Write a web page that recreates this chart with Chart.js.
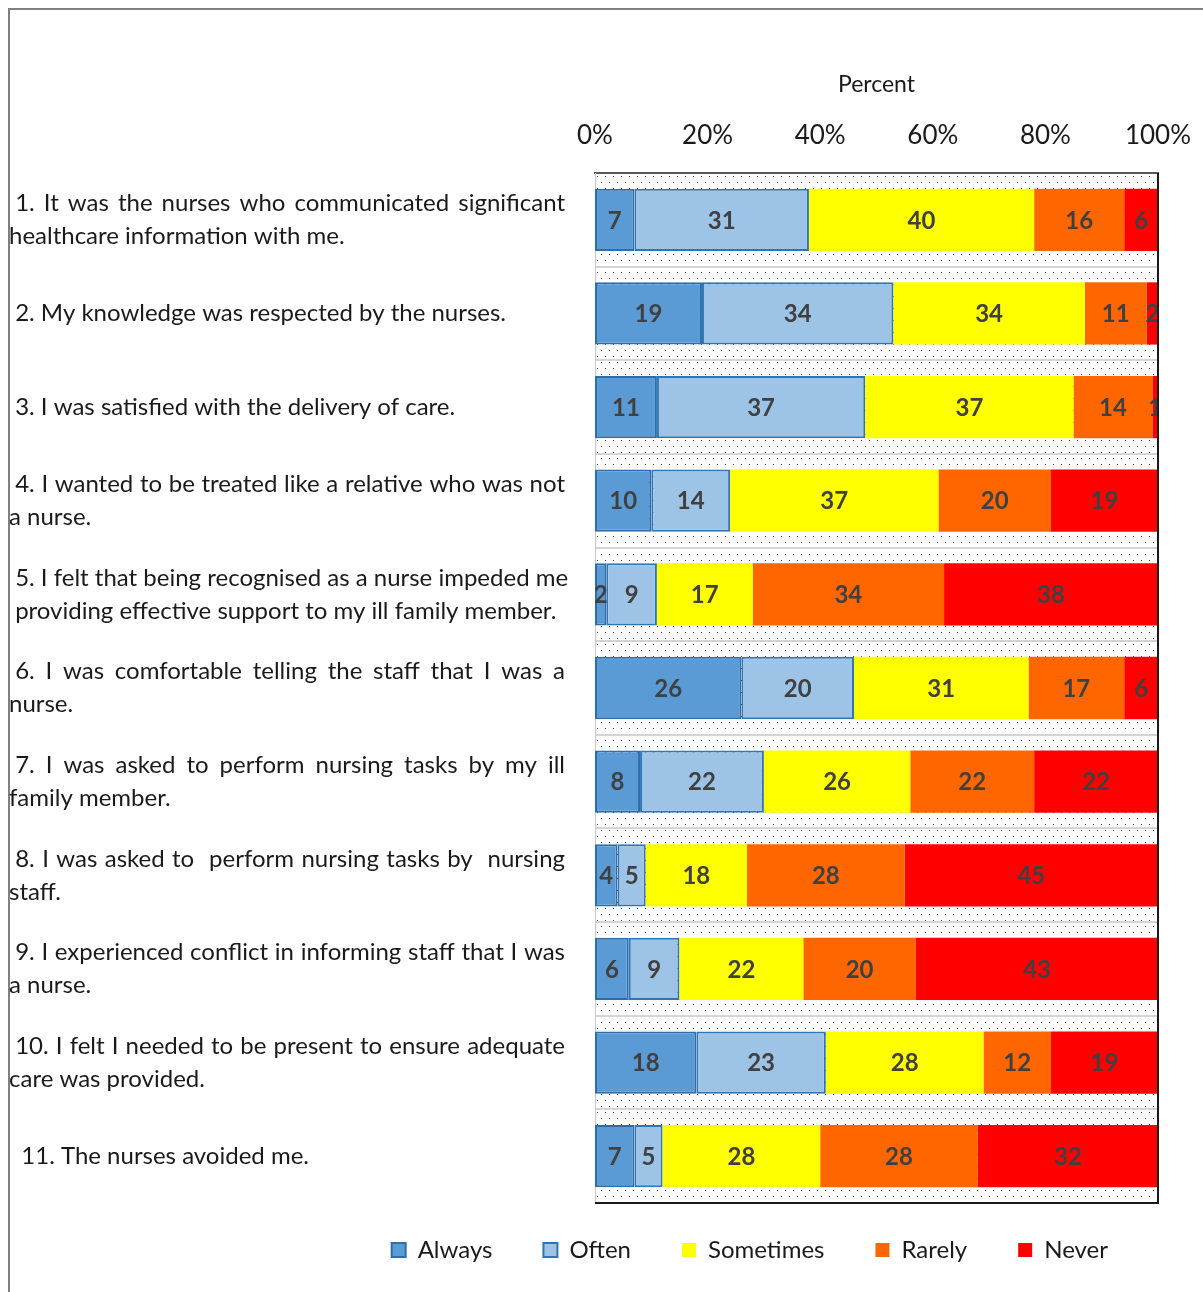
<!DOCTYPE html>
<html>
<head>
<meta charset="utf-8">
<title>Nurses as relatives – survey responses</title>
<script src="https://cdn.jsdelivr.net/npm/chart.js@4.4.1/dist/chart.umd.min.js"></script>
<style>
  html, body { margin: 0; padding: 0; background: #ffffff; }
  #wrap { position: relative; width: 1203px; height: 1292px; overflow: hidden; }
  #frame {
    position: absolute; left: 8px; top: 8px; width: 1400px; height: 1400px;
    border-left: 2px solid #808080; border-top: 2px solid #808080;
  }
  #wrap canvas { position: absolute; left: 0; top: 0; }
</style>
</head>
<body>
<div id="wrap">
  <div id="frame"></div>
  <canvas id="chart"></canvas>
</div>
<script>
// Survey statements (each entry is a list of printed lines)
const questions = [
  [' 1. It was the nurses who communicated significant', 'healthcare information with me.'],
  [' 2. My knowledge was respected by the nurses.'],
  [' 3. I was satisfied with the delivery of care.'],
  [' 4. I wanted to be treated like a relative who was not', 'a nurse.'],
  [' 5. I felt that being recognised as a nurse impeded me', ' providing effective support to my ill family member.'],
  [' 6. I was comfortable telling the staff that I was a', 'nurse.'],
  [' 7. I was asked to perform nursing tasks by my ill', 'family member.'],
  [' 8. I was asked to  perform nursing tasks by  nursing', 'staff.'],
  [' 9. I experienced conflict in informing staff that I was', 'a nurse.'],
  [' 10. I felt I needed to be present to ensure adequate', 'care was provided.'],
  ['  11. The nurses avoided me.']
];

const responseNames = ['Always', 'Often', 'Sometimes', 'Rarely', 'Never'];

// Percentage of respondents per statement
const always    = [7, 19, 11, 10, 2, 26, 8, 4, 6, 18, 7];
const often     = [31, 34, 37, 14, 9, 20, 22, 5, 9, 23, 5];
const sometimes = [40, 34, 37, 37, 17, 31, 26, 18, 22, 28, 28];
const rarely    = [16, 11, 14, 20, 34, 17, 22, 28, 20, 12, 28];
const never     = [6, 2, 1, 19, 38, 6, 22, 45, 43, 19, 32];

const percentTicks = [0, 20, 40, 60, 80, 100];

const FONT = 'Lato';
Chart.defaults.font.family = FONT;

// Dotted fill for the plot area
function dotPattern(ctx) {
  const tile = document.createElement('canvas');
  tile.width = 8; tile.height = 12;
  const t = tile.getContext('2d');
  t.fillStyle = '#ffffff';
  t.fillRect(0, 0, 8, 12);
  t.fillStyle = '#4a4a4a';
  t.fillRect(1, 2, 1, 1);
  t.fillRect(5, 8, 1, 1);
  return ctx.createPattern(tile, 'repeat');
}

const plotBackground = {
  id: 'plotBackground',
  beforeDraw(chart) {
    const { ctx, chartArea: a } = chart;
    ctx.save();
    ctx.fillStyle = dotPattern(ctx);
    ctx.fillRect(a.left, a.top, a.right - a.left, a.bottom - a.top);
    ctx.restore();
  }
};

// Right and bottom edge of the plot
const plotFrame = {
  id: 'plotFrame',
  afterDraw(chart) {
    const { ctx, chartArea: a } = chart;
    ctx.save();
    ctx.strokeStyle = '#1a1a1a';
    ctx.lineWidth = 2;
    ctx.beginPath();
    ctx.moveTo(a.right, a.top);
    ctx.lineTo(a.right, a.bottom);
    ctx.lineTo(a.left, a.bottom);
    ctx.stroke();
    ctx.restore();
  }
};

// Value printed in the middle of every segment
const segmentValues = {
  id: 'segmentValues',
  afterDatasetsDraw(chart) {
    const { ctx, chartArea: a } = chart;
    ctx.save();
    ctx.beginPath();
    ctx.rect(a.left, a.top, a.right - a.left, a.bottom - a.top);
    ctx.clip();
    ctx.font = 'bold 24px ' + FONT;
    ctx.fillStyle = '#404040';
    ctx.textAlign = 'center';
    ctx.textBaseline = 'middle';
    chart.data.datasets.forEach((ds, di) => {
      chart.getDatasetMeta(di).data.forEach((bar, i) => {
        const { x, base, y } = bar.getProps(['x', 'base', 'y'], true);
        ctx.fillText(String(ds.data[i]), (x + base) / 2, y + 1);
      });
    });
    ctx.restore();
  }
};

// Statement text on the left, justified like a word-processor paragraph
function drawTextLine(ctx, text, left, y, right, justify) {
  const spaceW = ctx.measureText(' ').width;
  const body = text.replace(/^ +/, '');
  const startX = left + (text.length - body.length) * spaceW;
  if (!justify) {
    ctx.fillText(body, startX, y);
    return;
  }
  const words = body.split(' ');
  const widths = words.map(w => ctx.measureText(w).width);
  const total = widths.reduce((s, w) => s + w, 0);
  const gaps = words.length - 1;
  let gap = gaps > 0 ? (right - startX - total) / gaps : 0;
  if (gap < spaceW) gap = spaceW;
  let cx = startX;
  words.forEach((w, k) => {
    if (w) ctx.fillText(w, cx, y);
    cx += widths[k] + gap;
  });
}

const statementLabels = {
  id: 'statementLabels',
  afterDraw(chart) {
    const { ctx } = chart;
    const yScale = chart.scales.y;
    const lineGap = 33;
    ctx.save();
    ctx.font = '24px ' + FONT;
    ctx.fillStyle = '#1a1a1a';
    ctx.textAlign = 'left';
    ctx.textBaseline = 'middle';
    chart.data.labels.forEach((lines, i) => {
      const cy = yScale.getPixelForValue(i);
      lines.forEach((line, j) => {
        const y = cy + (j - (lines.length - 1) / 2) * lineGap;
        drawTextLine(ctx, line, 9, y, 565, j < lines.length - 1);
      });
    });
    ctx.restore();
  }
};

// Nudge the legend row into place under the plot
const legendPlacement = {
  id: 'legendPlacement',
  afterLayout(chart) {
    const lg = chart.legend;
    if (!lg) return;
    lg.top -= 16; lg.bottom -= 16;
    lg.left += 1; lg.right += 1;
  }
};

const seriesValues = [always, often, sometimes, rarely, never];
const seriesStyle = [
  { backgroundColor: '#5B9BD5', borderColor: '#2E6DAA', borderWidth: 2 },
  { backgroundColor: '#9DC3E6', borderColor: '#2E75B6', borderWidth: 2 },
  { backgroundColor: '#FFFF00', borderColor: '#FFFF00', borderWidth: 0 },
  { backgroundColor: '#FF6600', borderColor: '#FF6600', borderWidth: 0 },
  { backgroundColor: '#FF0000', borderColor: '#FF0000', borderWidth: 0 }
];

const datasets = responseNames.map((name, k) => Object.assign({
  label: name,
  data: seriesValues[k],
  borderSkipped: false,
  barPercentage: 0.665,
  categoryPercentage: 1.0
}, seriesStyle[k]));

new Chart(document.getElementById('chart'), {
  type: 'bar',
  data: { labels: questions, datasets },
  options: {
    indexAxis: 'y',
    responsive: true,
    maintainAspectRatio: false,
    animation: false,
    layout: { padding: { left: 0, right: 45, top: 0, bottom: 9 } },
    scales: {
      x: {
        type: 'linear',
        position: 'top',
        stacked: true,
        min: 0,
        max: 100,
        grid: { display: false, drawTicks: false },
        border: { display: true, color: '#595959', width: 2 },
        ticks: {
          padding: 22,
          color: '#1a1a1a',
          font: { family: FONT, size: 26 },
          callback: v => v + '%'
        },
        title: {
          display: true,
          text: 'Percent',
          color: '#1a1a1a',
          font: { family: FONT, size: 23 },
          padding: { top: 71, bottom: 0 }
        },
        afterBuildTicks: s => { s.ticks = percentTicks.map(v => ({ value: v })); },
        afterFit: s => { s.height = 173; s.paddingLeft = 0; s.paddingRight = 0; }
      },
      y: {
        type: 'category',
        stacked: true,
        offset: true,
        grid: { display: true, offset: true, color: '#d4d4d4', lineWidth: 2, drawTicks: false },
        border: { display: true, color: '#c8c8c8', width: 1 },
        ticks: { display: false },
        afterFit: s => { s.width = 595; s.paddingTop = 0; s.paddingBottom = 0; }
      }
    },
    plugins: {
      legend: {
        position: 'bottom',
        align: 'end',
        maxHeight: 80,
        labels: {
          boxWidth: 14,
          boxHeight: 14,
          padding: 51,
          color: '#1a1a1a',
          font: { family: FONT, size: 24 }
        }
      },
      tooltip: { enabled: false }
    }
  },
  plugins: [plotBackground, segmentValues, statementLabels, plotFrame, legendPlacement]
});
</script>
</body>
</html>
